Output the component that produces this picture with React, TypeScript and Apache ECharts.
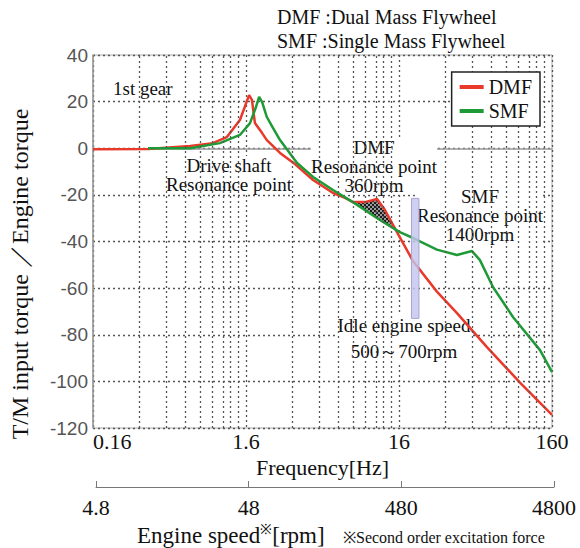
import { useEffect, useRef } from "react";
import * as echarts from "echarts";

// ---- data ----
const baseHz = 0.16;
const freqTickLabels = ["0.16", "1.6", "16", "160"];
const rpmTickLabels = ["4.8", "48", "480", "4800"];
const yMin = -120;
const yMax = 40;
const yStep = 20;

const dmfHz = [0.16, 0.366, 0.69, 0.97, 1.2, 1.46, 1.57, 1.676, 1.75, 1.83, 2.04, 2.19, 2.67, 3.34, 4.39, 5.93, 7.1, 8.0, 9.59, 11.5, 12.95, 15.1, 19.8, 28.3, 38.3, 60.1, 98.8, 160];
const dmfTorque = [-0.4, -0.3, 1.0, 2.2, 4.8, 12.1, 17.7, 22.8, 20.7, 10.8, 6.5, 3.5, -2.0, -6.8, -13.6, -19.2, -21.3, -23.1, -23.1, -21.8, -26.5, -34.6, -48.5, -61.5, -70.7, -85.3, -100.5, -114.4];

const smfHz = [0.366, 0.69, 1.08, 1.46, 1.7, 1.86, 1.95, 2.04, 2.19, 2.4, 2.67, 3.45, 4.39, 5.93, 8.0, 12.0, 16.2, 19.8, 28.3, 38.3, 48.0, 54.1, 65.8, 88.9, 133.6, 160];
const smfTorque = [0, 0, 2.2, 5.7, 10.8, 17.7, 22.0, 19.8, 13.4, 8.7, 3.5, -6.3, -12.3, -17.9, -23.1, -30.8, -36.0, -38.5, -43.5, -45.8, -44.1, -48.0, -59.5, -72.4, -86.6, -96.0];

const hatchHz = [8.0, 15.1];
const idleBandHz = [19.3, 21.6];
const idleBandTorque = [-73, -21.5];

const SERIF = "'Liberation Serif', 'Times New Roman', serif";
const SANS = "'Liberation Sans', Arial, sans-serif";

export default function App() {
  const ref = useRef<HTMLDivElement>(null);

  useEffect(() => {
    if (!ref.current) return;
    const chart = echarts.init(ref.current, null, { renderer: "svg" });
    const lx = (f: number) => Math.log10(f / baseHz);

    const dmf = dmfHz.map((f, i) => [lx(f), dmfTorque[i]]);
    const smf = smfHz.map((f, i) => [lx(f), smfTorque[i]]);
    const hatch = [
      ...dmf.filter((_, i) => dmfHz[i] >= hatchHz[0] && dmfHz[i] <= hatchHz[1]),
      ...smf.filter((_, i) => smfHz[i] >= hatchHz[0] && smfHz[i] <= hatchHz[1]).reverse(),
    ];
    const minorX: number[] = [];
    for (let d = 0; d < freqTickLabels.length - 1; d++)
      for (let k = 2; k <= 9; k++) minorX.push(d + Math.log10(k));

    let hatchFill: any = "#4a4a4a";
    try {
      const c = document.createElement("canvas");
      c.width = 4;
      c.height = 4;
      const g = c.getContext("2d");
      if (g) {
        g.fillStyle = "#9a9a9a";
        g.fillRect(0, 0, 4, 4);
        g.fillStyle = "#1c1c1c";
        g.fillRect(0, 0, 2, 2);
        g.fillRect(2, 2, 2, 2);
        hatchFill = { image: c.toDataURL(), repeat: "repeat" };
      }
    } catch (e) {
      hatchFill = "#4a4a4a";
    }

    const dotted = { type: [2, 3] as any, color: "#555", width: 1.3 };

    const annotation = (text: string, x: number, y: number, align = "center", lh = 19) => ({
      type: "text",
      x,
      y,
      z: 2,
      silent: true,
      style: {
        text,
        fontFamily: SERIF,
        fontSize: 19,
        lineHeight: lh,
        fill: "#111",
        textAlign: align,
        textVerticalAlign: "middle",
        backgroundColor: "#fff",
      },
    });

    chart.setOption({
      animation: false,
      backgroundColor: "#fff",
      grid: [
        { left: 93, right: 28, top: 55, bottom: 120, show: true, borderColor: "#aaa", borderWidth: 1 },
        { left: 96, right: 26, top: 477, height: 10 },
      ],
      legend: {
        data: ["DMF", "SMF"],
        orient: "vertical",
        right: 40,
        top: 72,
        backgroundColor: "#fff",
        borderColor: "#222",
        borderWidth: 1.5,
        borderRadius: 0,
        padding: [5, 8, 5, 8],
        itemGap: 4,
        itemWidth: 24,
        itemHeight: 4,
        icon: "rect",
        textStyle: { fontFamily: SERIF, fontSize: 20, color: "#111" },
        z: 60,
      },
      xAxis: [
        {
          type: "value",
          gridIndex: 0,
          min: 0,
          max: freqTickLabels.length - 1,
          interval: 1,
          axisLine: { lineStyle: { color: "#999", width: 1.5 } },
          axisTick: { show: false },
          axisLabel: {
            formatter: (v: number) => freqTickLabels[Math.round(v)] ?? "",
            fontFamily: SERIF,
            fontSize: 22,
            color: "#111",
            margin: 2,
            alignMinLabel: "left",
          },
          splitLine: { show: true, lineStyle: dotted },
          name: "Frequency[Hz]",
          nameLocation: "middle",
          nameGap: 27,
          nameTextStyle: { fontFamily: SERIF, fontSize: 22, color: "#111" },
        },
        {
          type: "value",
          gridIndex: 1,
          min: 0,
          max: rpmTickLabels.length - 1,
          interval: 1,
          position: "bottom",
          axisLine: { lineStyle: { color: "#777", width: 1 } },
          axisTick: { show: true, inside: true, length: 6, lineStyle: { color: "#777" } },
          axisLabel: {
            formatter: (v: number) => rpmTickLabels[Math.round(v)] ?? "",
            fontFamily: SERIF,
            fontSize: 22,
            color: "#111",
            margin: 9,
          },
          splitLine: { show: false },
        },
      ],
      yAxis: [
        {
          type: "value",
          gridIndex: 0,
          min: yMin,
          max: yMax,
          interval: yStep,
          axisLine: { show: true, lineStyle: { color: "#999", width: 1.5 } },
          axisTick: { show: false },
          axisLabel: { fontFamily: SANS, fontSize: 19, color: "#555", margin: 5 },
          splitLine: { show: true, lineStyle: dotted },
        },
        { type: "value", gridIndex: 1, show: false, min: 0, max: 1 },
      ],
      series: [
        {
          name: "grid-minor",
          type: "line",
          xAxisIndex: 0,
          yAxisIndex: 0,
          data: [],
          silent: true,
          z: 1,
          markLine: {
            silent: true,
            symbol: ["none", "none"],
            label: { show: false },
            lineStyle: dotted,
            emphasis: { disabled: true },
            data: minorX.map((x) => ({ xAxis: x })),
          },
        },
        {
          name: "hatch",
          type: "custom",
          xAxisIndex: 0,
          yAxisIndex: 0,
          z: 3,
          silent: true,
          data: [hatch[0]],
          renderItem: (_p: any, api: any) => ({
            type: "polygon",
            shape: { points: hatch.map((p) => api.coord(p)) },
            style: { fill: hatchFill, stroke: "#333", lineWidth: 0.5 },
          }),
        },
        {
          name: "DMF",
          type: "line",
          xAxisIndex: 0,
          yAxisIndex: 0,
          data: dmf,
          showSymbol: false,
          color: "#e8392a",
          lineStyle: { width: 2.5, color: "#e8392a" },
          z: 4,
        },
        {
          name: "SMF",
          type: "line",
          xAxisIndex: 0,
          yAxisIndex: 0,
          data: smf,
          showSymbol: false,
          color: "#1e9b36",
          lineStyle: { width: 2.5, color: "#1e9b36" },
          z: 4,
        },
        {
          name: "idle",
          type: "custom",
          xAxisIndex: 0,
          yAxisIndex: 0,
          z: 5,
          silent: true,
          data: [[lx(idleBandHz[0]), idleBandTorque[0]]],
          renderItem: (_p: any, api: any) => {
            const a = api.coord([lx(idleBandHz[0]), idleBandTorque[1]]);
            const b = api.coord([lx(idleBandHz[1]), idleBandTorque[0]]);
            return {
              type: "rect",
              shape: { x: a[0], y: a[1], width: b[0] - a[0], height: b[1] - a[1] },
              style: { fill: "rgba(196,196,236,0.82)", stroke: "#a5a5d6", lineWidth: 1 },
            };
          },
        },
      ],
      graphic: [
        { type: "text", x: 277, y: 17, style: { text: "DMF :Dual Mass Flywheel", fontFamily: SERIF, fontSize: 20, fill: "#111", textVerticalAlign: "middle" } },
        { type: "text", x: 277, y: 41, style: { text: "SMF :Single Mass Flywheel", fontFamily: SERIF, fontSize: 20, fill: "#111", textVerticalAlign: "middle" } },
        {
          type: "text",
          x: 20,
          y: 274,
          rotation: Math.PI / 2,
          style: { text: "T/M input torque ／Engine torque", fontFamily: SERIF, fontSize: 24, fill: "#111", textAlign: "center", textVerticalAlign: "middle" },
        },
        annotation("1st gear", 113, 88, "left"),
        annotation("Drive shaft\nResonance point", 229, 175),
        annotation("DMF\nResonance point\n360rpm", 374, 166),
        annotation("SMF\nResonance point\n1400rpm", 480, 215),
        annotation("Idle engine speed\n500～700rpm", 404, 338, "center", 26),
        {
          type: "text",
          x: 137,
          y: 535,
          style: {
            text: "{a|Engine speed}{s|※}{a|[rpm]}",
            textVerticalAlign: "middle",
            rich: {
              a: { fontFamily: SERIF, fontSize: 23, fill: "#111", lineHeight: 26 },
              s: { fontFamily: SERIF, fontSize: 14, fill: "#111", verticalAlign: "top", lineHeight: 14 },
            },
          },
        },
        { type: "text", x: 343, y: 537, style: { text: "※Second order excitation force", fontFamily: SERIF, fontSize: 16, fill: "#111", textVerticalAlign: "middle" } },
      ],
    });

    return () => chart.dispose();
  }, []);

  return <div ref={ref} style={{ position: "fixed", left: 0, top: 0, width: 580, height: 548, background: "#fff" }} />;
}
